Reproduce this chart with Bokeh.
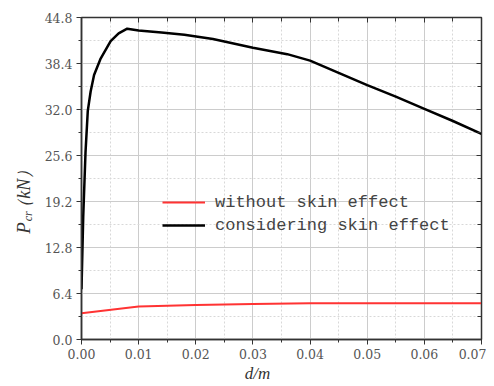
from bokeh.plotting import figure
from bokeh.models import (LinearAxis, FixedTicker, PrintfTickFormatter, Range1d,
                          Legend, LegendItem, Label)
from bokeh.layouts import row, column
from bokeh.embed import file_html
from bokeh.resources import INLINE
import math

# ---- data ----
d_consider = [0.0, 0.0003, 0.0007, 0.0011, 0.0016, 0.0022, 0.0033, 0.0051, 0.0065,
              0.008, 0.010, 0.014, 0.018, 0.023, 0.030, 0.036, 0.040, 0.045, 0.050,
              0.055, 0.060, 0.065, 0.070]
p_consider = [7.0, 17.0, 26.0, 31.8, 34.5, 36.8, 39.0, 41.5, 42.6,
              43.25, 43.0, 42.7, 42.4, 41.8, 40.6, 39.7, 38.8, 37.1, 35.4,
              33.8, 32.1, 30.4, 28.6]
d_without = [0.0, 0.01, 0.02, 0.03, 0.04, 0.05, 0.06, 0.07]
p_without = [3.66, 4.6, 4.8, 4.95, 5.05, 5.05, 5.05, 5.05]

x_ticks = [0.0, 0.01, 0.02, 0.03, 0.04, 0.05, 0.06, 0.07]
x_minor = [0.005, 0.015, 0.025, 0.035, 0.045, 0.055, 0.065]
y_ticks = [0.0, 6.4, 12.8, 19.2, 25.6, 32.0, 38.4, 44.8]
y_minor = [3.2, 9.6, 16.0, 22.4, 28.8, 35.2, 41.6]

labels = ["without skin effect", "considering skin effect"]
x_title = "d/m"
y_title_main, y_title_sub, y_title_unit = "P", "cr", "（kN）"

tick_font = "DejaVu Serif"
lab_font = "Liberation Serif"
axis_color = "#333333"

STRIP_W = 40          # left strip holding the y title
MAIN_H = 359          # height of main plot canvas
BOTTOM_H = 27         # bottom strip holding the x title

p = figure(frame_width=400, frame_height=322, output_backend="svg",
           toolbar_location=None, x_range=Range1d(0, 0.07), y_range=Range1d(0, 44.8),
           min_border_left=81 - STRIP_W, min_border_top=17, min_border_right=5,
           min_border_bottom=20,
           background_fill_color="white", border_fill_color="white")
p.outline_line_color = axis_color
p.outline_line_width = 1.5

xt = FixedTicker(ticks=x_ticks, minor_ticks=x_minor)
yt = FixedTicker(ticks=y_ticks, minor_ticks=y_minor)

for ax in p.xaxis:
    ax.ticker = xt
    ax.formatter = PrintfTickFormatter(format="%.2f")
for ax in p.yaxis:
    ax.ticker = yt
    ax.formatter = PrintfTickFormatter(format="%.1f")

for ax in list(p.xaxis) + list(p.yaxis):
    ax.axis_line_color = axis_color
    ax.axis_line_width = 1.5
    ax.major_tick_line_color = axis_color
    ax.minor_tick_line_color = axis_color
    ax.major_tick_out = 5
    ax.major_tick_in = 0
    ax.minor_tick_out = 3
    ax.minor_tick_in = 0
    ax.major_label_text_font = tick_font
    ax.major_label_text_font_size = "12.5px"
    ax.major_label_text_color = "#555555"
    ax.major_label_standoff = 4

# right and top axes with inward ticks, no labels
ra = LinearAxis(ticker=yt, major_tick_in=5, major_tick_out=0,
                minor_tick_in=4, minor_tick_out=0, axis_line_color=axis_color,
                major_tick_line_color=axis_color, minor_tick_line_color=axis_color,
                major_label_standoff=0, major_label_overrides={t: "" for t in y_ticks})
ta = LinearAxis(ticker=xt, major_tick_in=5, major_tick_out=0,
                minor_tick_in=4, minor_tick_out=0, axis_line_color=axis_color,
                major_tick_line_color=axis_color, minor_tick_line_color=axis_color,
                major_label_standoff=0, major_label_overrides={t: "" for t in x_ticks})
p.add_layout(ra, "right")
p.add_layout(ta, "above")

for g in (p.xgrid, p.ygrid):
    g.grid_line_color = "#cccccc"
    g.grid_line_width = 1
    g.minor_grid_line_color = "#d8d8d8"
    g.minor_grid_line_dash = "2 2"

r_without = p.line(d_without, p_without, line_color="#ff3333", line_width=2)
r_consider = p.line(d_consider, p_consider, line_color="black", line_width=2.5)

legend = Legend(items=[LegendItem(label=labels[0], renderers=[r_without]),
                       LegendItem(label=labels[1], renderers=[r_consider])],
                location=(81, 104), background_fill_alpha=0, border_line_alpha=0,
                padding=0, margin=0, spacing=3, glyph_width=43, glyph_height=20,
                label_height=20, label_standoff=10,
                label_text_font="Liberation Mono", label_text_font_size="17px",
                label_text_color="#444444")
p.add_layout(legend, "center")


def strip(w, h, xr, yr):
    f = figure(width=w, height=h, output_backend="svg", toolbar_location=None,
               x_axis_type=None, y_axis_type=None, x_range=Range1d(*xr), y_range=Range1d(*yr),
               min_border=0, min_border_left=0, min_border_right=0,
               min_border_top=0, min_border_bottom=0,
               background_fill_color="white", border_fill_color="white")
    f.outline_line_color = None
    f.grid.visible = False
    return f


# left strip: y title (coordinates in page pixels, y downwards)
yfig = strip(STRIP_W, MAIN_H, (0, STRIP_W), (MAIN_H, 0))
yfig.add_layout(Label(x=22.5, y=236, text=y_title_main, text_font=lab_font,
                      text_font_style="italic", text_font_size="19px", text_align="center",
                      text_baseline="middle", angle=math.pi / 2, text_color="#333333"))
yfig.add_layout(Label(x=27.5, y=223, text=y_title_sub, text_font=lab_font,
                      text_font_style="italic", text_font_size="12px", text_align="center",
                      text_baseline="middle", angle=math.pi / 2, text_color="#333333"))
yfig.add_layout(Label(x=23.5, y=192, text=y_title_unit, text_font=lab_font,
                      text_font_style="italic", text_font_size="18px", text_align="center",
                      text_baseline="middle", angle=math.pi / 2, text_color="#333333"))

# bottom strip: x title
total_w = STRIP_W + 81 - STRIP_W + 400 + 5
xfig = strip(total_w, BOTTOM_H, (0, total_w), (MAIN_H + BOTTOM_H, MAIN_H))
xfig.add_layout(Label(x=257, y=371, text=x_title, text_font=lab_font,
                      text_font_style="italic", text_font_size="17px", text_align="center",
                      text_baseline="middle", text_color="#333333"))

layout = column(row(yfig, p, spacing=0), xfig, spacing=0)
open("out.html", "w").write(file_html(layout, INLINE))
